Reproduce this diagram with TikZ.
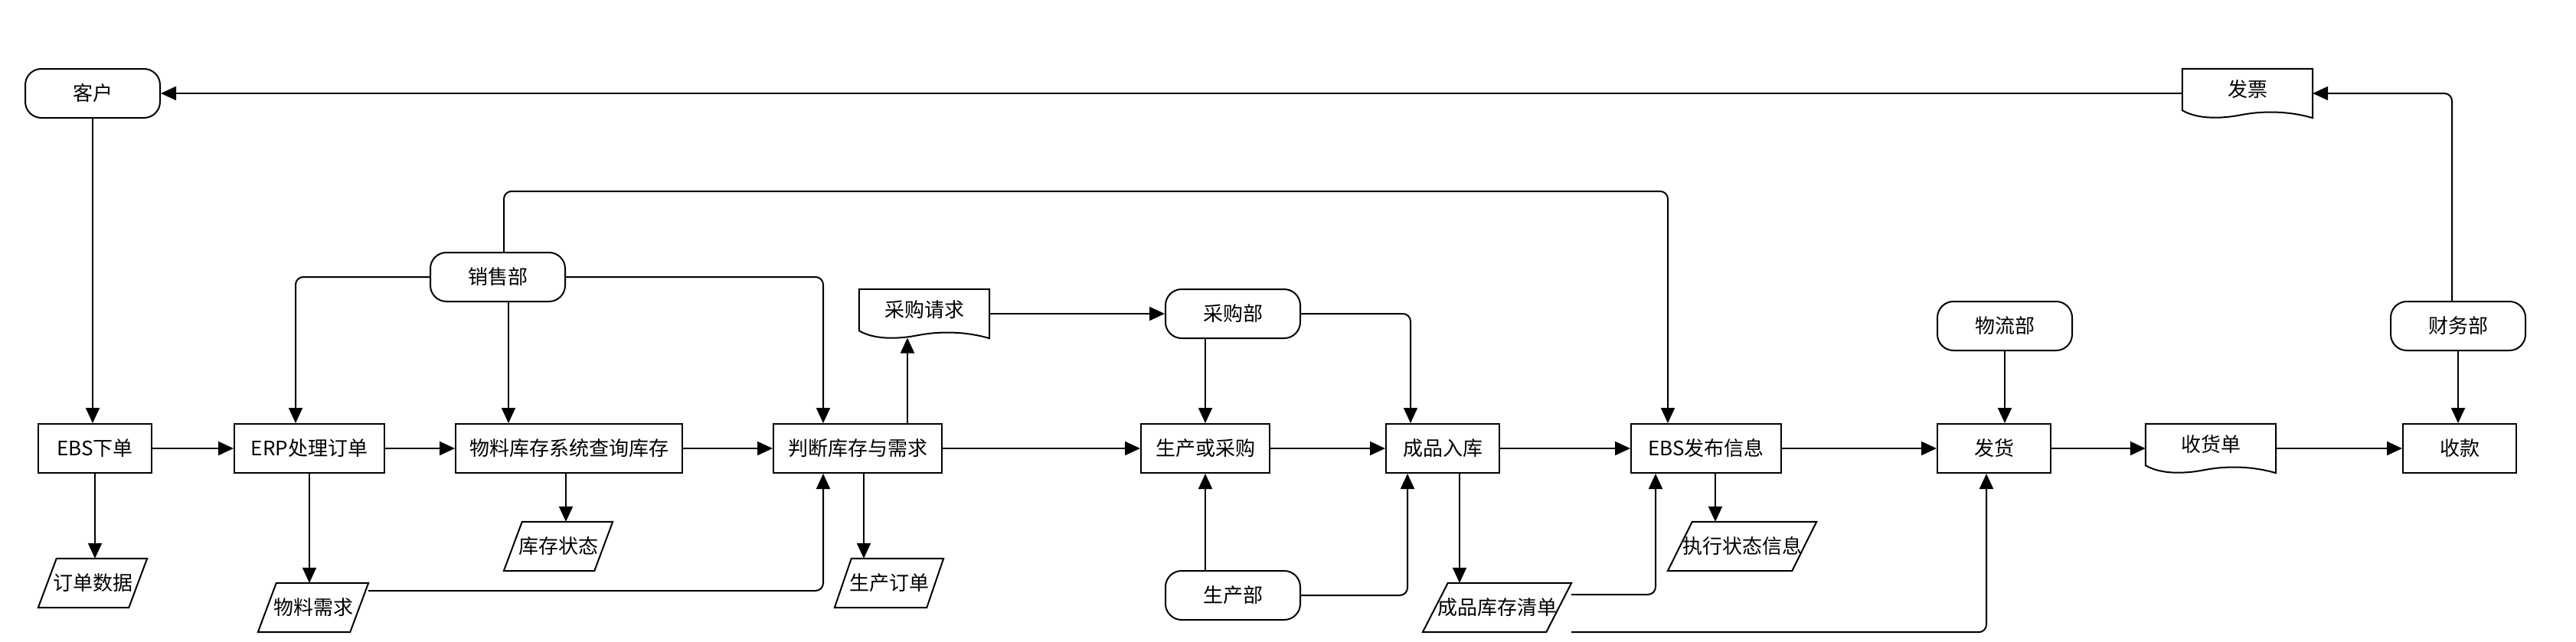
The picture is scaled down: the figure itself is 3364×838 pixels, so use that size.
\documentclass[tikz,border=0pt]{standalone}
\usepackage{fontspec}
\newfontfamily\cjk{Noto Sans CJK SC}
\usetikzlibrary{arrows.meta,calc}
\tikzset{
 lbl/.style={font=\cjk\fontsize{26}{30}\selectfont, inner sep=0pt, minimum height=64pt, text height=22pt, text depth=2.2pt},
 procbox/.style={lbl, draw, line width=2pt},
 termbox/.style={lbl, draw, line width=2pt, rounded corners=21pt},
 docbox/.style={lbl, text depth=12.2pt},
 parabox/.style={lbl},
 shp/.style={line width=2pt},
 arr/.style={line width=2pt, rounded corners=10pt, -{Triangle[length=20pt,width=18pt]}},
}
\newcommand\parashape[2]{\draw[shp] ([xshift=#2]#1.north west) -- (#1.north east) -- ([xshift=-#2]#1.south east) -- (#1.south west) -- cycle;}
\newcommand\docshape[1]{\draw[shp] (#1.south east) -- (#1.north east) -- (#1.north west) -- ($(#1.south west)+(0pt,10pt)$)
 .. controls ($(#1.south west)!0.12!(#1.south east)+(0pt,-2pt)$) and ($(#1.south west)!0.3!(#1.south east)+(0pt,-1pt)$) .. ($(#1.south west)!0.45!(#1.south east)+(0pt,4pt)$)
 .. controls ($(#1.south west)!0.6!(#1.south east)+(0pt,9pt)$) and ($(#1.south west)!0.8!(#1.south east)+(0pt,10pt)$) .. (#1.south east) -- cycle;}
\begin{document}
\begin{tikzpicture}[x=1pt,y=-1pt]
\useasboundingbox (0,0) rectangle (3364,838);
% terminators
\node[termbox, minimum width=176pt] (kh) at (121,122) {客户};
\node[termbox, minimum width=176pt] (xsb) at (650,362) {销售部};
\node[termbox, minimum width=176pt] (cgb) at (1610,410) {采购部};
\node[termbox, minimum width=176pt] (wlb) at (2618,426) {物流部};
\node[termbox, minimum width=176pt] (cwb) at (3210,426) {财务部};
\node[termbox, minimum width=176pt] (scb) at (1610,778) {生产部};
% documents
\node[docbox, minimum width=170pt] (fp) at (2935,122) {发票};
\node[docbox, minimum width=170pt] (cgqq) at (1207,410) {采购请求};
\node[docbox, minimum width=170pt] (shd) at (2887,586) {收货单};
\docshape{fp}
\docshape{cgqq}
\docshape{shd}
% processes
\node[procbox, minimum width=148pt] (ebsxd) at (124,586) {EBS下单};
\node[procbox, minimum width=196pt] (erp) at (404,586) {ERP处理订单};
\node[procbox, minimum width=296pt] (cxkc) at (743,586) {物料库存系统查询库存};
\node[procbox, minimum width=220pt] (pd) at (1120,586) {判断库存与需求};
\node[procbox, minimum width=168pt] (schcg) at (1574,586) {生产或采购};
\node[procbox, minimum width=148pt] (cprk) at (1884,586) {成品入库};
\node[procbox, minimum width=196pt] (ebsfb) at (2228,586) {EBS发布信息};
\node[procbox, minimum width=148pt] (fh) at (2604,586) {发货};
\node[procbox, minimum width=148pt] (sk) at (3212,586) {收款};
% data (parallelograms)
\node[parabox, minimum width=142pt] (kczt) at (729,714) {库存状态};
\node[parabox, minimum width=194pt] (zxzt) at (2275,714) {执行状态信息};
\node[parabox, minimum width=142pt] (ddsj) at (121,762) {订单数据};
\node[parabox, minimum width=142pt] (scdd) at (1161,762) {生产订单};
\node[parabox, minimum width=144pt] (wlxq) at (409,794) {物料需求};
\node[parabox, minimum width=194pt] (cpkcqd) at (1955,794) {成品库存清单};
\parashape{kczt}{24pt}
\parashape{zxzt}{32pt}
\parashape{ddsj}{24pt}
\parashape{scdd}{22pt}
\parashape{wlxq}{24pt}
\parashape{cpkcqd}{33pt}
% free-end coordinates
\coordinate (topy) at (0,250);
\coordinate (cgqqb) at (1185,441.5);
% main row
\draw[arr] (ebsxd.east) -- (erp.west);
\draw[arr] (erp.east) -- (cxkc.west);
\draw[arr] (cxkc.east) -- (pd.west);
\draw[arr] (pd.east) -- (schcg.west);
\draw[arr] (schcg.east) -- (cprk.west);
\draw[arr] (cprk.east) -- (ebsfb.west);
\draw[arr] (ebsfb.east) -- (fh.west);
\draw[arr] (fh.east) -- (shd.west);
\draw[arr] (shd.east) -- (sk.west);
% customer / invoice
\draw[arr] (fp.west) -- (fp.west -| kh.east);
\draw[arr] (kh.south) -- (kh.south |- ebsxd.north);
\draw[arr] ([xshift=-8pt]cwb.north) |- (fp.east);
% sales department
\draw[arr] (xsb.west) -| ([xshift=-18pt]erp.north);
\draw[arr] ([xshift=14pt]xsb.south) -- ([xshift=14pt]xsb.south |- cxkc.north);
\draw[arr] (xsb.east) -| ([xshift=-45pt]pd.north);
\draw[arr] ([xshift=8pt]xsb.north) |- ([xshift=-50pt]ebsfb.north |- topy) -- ([xshift=-50pt]ebsfb.north);
% outputs down
\draw[arr] (ebsxd.south) -- (ebsxd.south |- ddsj.north);
\draw[arr] (erp.south) -- (erp.south |- wlxq.north);
\draw[arr] ([xshift=-4pt]cxkc.south) -- ([xshift=-4pt]cxkc.south |- kczt.north);
\draw[arr] ([yshift=22pt]wlxq.east) -| ([xshift=-45pt]pd.south);
\draw[arr] ([xshift=8pt]pd.south) -- ([xshift=8pt]pd.south |- scdd.north);
\draw[arr] (pd.north -| cgqqb) -- (cgqqb);
\draw[arr] (cgqq.east) -- (cgb.west);
\draw[arr] (cgb.south -| schcg.north) -- (schcg.north);
\draw[arr] (cgb.east) -| ([xshift=-42pt]cprk.north);
\draw[arr] (scb.north -| schcg.south) -- (schcg.south);
\draw[arr] (scb.east) -| ([xshift=-46pt]cprk.south);
\draw[arr] ([xshift=22pt]cprk.south) -- ([xshift=22pt]cprk.south |- cpkcqd.north);
\draw[arr] ([yshift=17pt]cpkcqd.east) -| ([xshift=-66pt]ebsfb.south);
\draw[arr] (cpkcqd.south east) -| ([xshift=-10pt]fh.south);
\draw[arr] ([xshift=12pt]ebsfb.south) -- ([xshift=12pt]ebsfb.south |- zxzt.north);
\draw[arr] (wlb.south) -- (wlb.south |- fh.north);
\draw[arr] (cwb.south) -- (cwb.south |- sk.north);
\end{tikzpicture}
\end{document}
